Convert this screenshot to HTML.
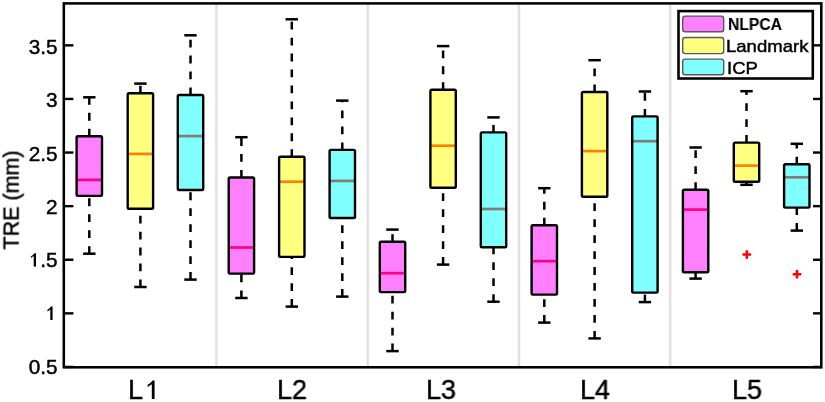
<!DOCTYPE html>
<html><head><meta charset="utf-8">
<style>
html,body{margin:0;padding:0;background:#fff;}
body{width:825px;height:402px;position:relative;overflow:hidden;font-family:"Liberation Sans",sans-serif;color:#000;}
.h{color:transparent;-webkit-text-stroke-color:transparent;}
.t{position:absolute;line-height:1;white-space:nowrap;will-change:transform;-webkit-text-stroke:0.45px #000;}
</style></head><body>
<div id="w" style="position:absolute;left:0;top:0;width:825px;height:402px;filter:blur(0.4px)">
<svg width="825" height="402" viewBox="0 0 825 402" style="position:absolute;left:0;top:0">
<line x1="216.4" y1="3.4" x2="216.4" y2="367.3" stroke="#f4f4f4" stroke-width="3.4"/>
<line x1="216.4" y1="3.4" x2="216.4" y2="367.3" stroke="#e0e0e0" stroke-width="1.9"/>
<line x1="367.8" y1="3.4" x2="367.8" y2="367.3" stroke="#f4f4f4" stroke-width="3.4"/>
<line x1="367.8" y1="3.4" x2="367.8" y2="367.3" stroke="#e0e0e0" stroke-width="1.9"/>
<line x1="519.0" y1="3.4" x2="519.0" y2="367.3" stroke="#f4f4f4" stroke-width="3.4"/>
<line x1="519.0" y1="3.4" x2="519.0" y2="367.3" stroke="#e0e0e0" stroke-width="1.9"/>
<line x1="670.2" y1="3.4" x2="670.2" y2="367.3" stroke="#f4f4f4" stroke-width="3.4"/>
<line x1="670.2" y1="3.4" x2="670.2" y2="367.3" stroke="#e0e0e0" stroke-width="1.9"/>
<line x1="63.8" y1="366.95" x2="73.39999999999999" y2="366.95" stroke="#000" stroke-width="2.4"/>
<line x1="813.0" y1="366.95" x2="821.3" y2="366.95" stroke="#000" stroke-width="2.4"/>
<line x1="63.8" y1="313.35" x2="73.39999999999999" y2="313.35" stroke="#000" stroke-width="2.4"/>
<line x1="813.0" y1="313.35" x2="821.3" y2="313.35" stroke="#000" stroke-width="2.4"/>
<line x1="63.8" y1="259.75" x2="73.39999999999999" y2="259.75" stroke="#000" stroke-width="2.4"/>
<line x1="813.0" y1="259.75" x2="821.3" y2="259.75" stroke="#000" stroke-width="2.4"/>
<line x1="63.8" y1="206.15" x2="73.39999999999999" y2="206.15" stroke="#000" stroke-width="2.4"/>
<line x1="813.0" y1="206.15" x2="821.3" y2="206.15" stroke="#000" stroke-width="2.4"/>
<line x1="63.8" y1="152.55" x2="73.39999999999999" y2="152.55" stroke="#000" stroke-width="2.4"/>
<line x1="813.0" y1="152.55" x2="821.3" y2="152.55" stroke="#000" stroke-width="2.4"/>
<line x1="63.8" y1="98.95" x2="73.39999999999999" y2="98.95" stroke="#000" stroke-width="2.4"/>
<line x1="813.0" y1="98.95" x2="821.3" y2="98.95" stroke="#000" stroke-width="2.4"/>
<line x1="63.8" y1="45.35" x2="73.39999999999999" y2="45.35" stroke="#000" stroke-width="2.4"/>
<line x1="813.0" y1="45.35" x2="821.3" y2="45.35" stroke="#000" stroke-width="2.4"/>
<line x1="89.3" y1="136.3" x2="89.3" y2="97.3" stroke="#000" stroke-width="2.5" stroke-dasharray="7.8 8.15" stroke-dashoffset="0.3"/>
<line x1="89.3" y1="253.7" x2="89.3" y2="195.9" stroke="#000" stroke-width="2.5" stroke-dasharray="7.8 8.15" stroke-dashoffset="0.3"/>
<line x1="83.1" y1="97.3" x2="95.5" y2="97.3" stroke="#000" stroke-width="2.5"/>
<line x1="83.1" y1="253.7" x2="95.5" y2="253.7" stroke="#000" stroke-width="2.5"/>
<rect x="76.60" y="136.3" width="25.4" height="59.60" fill="#ff80ff"/>
<line x1="76.60" y1="179.9" x2="102.00" y2="179.9" stroke="#ff0080" stroke-width="2.7"/>
<rect x="76.60" y="136.3" width="25.4" height="59.60" rx="1.3" fill="none" stroke="#000" stroke-width="2.4" stroke-linejoin="round"/>
<line x1="140.4" y1="93.3" x2="140.4" y2="83.6" stroke="#000" stroke-width="2.5" stroke-dasharray="7.8 8.15" stroke-dashoffset="0.3"/>
<line x1="140.4" y1="287.0" x2="140.4" y2="208.8" stroke="#000" stroke-width="2.5" stroke-dasharray="7.8 8.15" stroke-dashoffset="0.3"/>
<line x1="134.20000000000002" y1="83.6" x2="146.6" y2="83.6" stroke="#000" stroke-width="2.5"/>
<line x1="134.20000000000002" y1="287.0" x2="146.6" y2="287.0" stroke="#000" stroke-width="2.5"/>
<rect x="127.70" y="93.3" width="25.4" height="115.50" fill="#ffff80"/>
<line x1="127.70" y1="153.9" x2="153.10" y2="153.9" stroke="#ff8000" stroke-width="2.7"/>
<rect x="127.70" y="93.3" width="25.4" height="115.50" rx="1.3" fill="none" stroke="#000" stroke-width="2.4" stroke-linejoin="round"/>
<line x1="190.5" y1="95.0" x2="190.5" y2="35.3" stroke="#000" stroke-width="2.5" stroke-dasharray="7.8 8.15" stroke-dashoffset="0.3"/>
<line x1="190.5" y1="279.6" x2="190.5" y2="190.0" stroke="#000" stroke-width="2.5" stroke-dasharray="7.8 8.15" stroke-dashoffset="0.3"/>
<line x1="184.3" y1="35.3" x2="196.7" y2="35.3" stroke="#000" stroke-width="2.5"/>
<line x1="184.3" y1="279.6" x2="196.7" y2="279.6" stroke="#000" stroke-width="2.5"/>
<rect x="177.80" y="95.0" width="25.4" height="95.00" fill="#80ffff"/>
<line x1="177.80" y1="136.1" x2="203.20" y2="136.1" stroke="#847a7a" stroke-width="2.7"/>
<rect x="177.80" y="95.0" width="25.4" height="95.00" rx="1.3" fill="none" stroke="#000" stroke-width="2.4" stroke-linejoin="round"/>
<line x1="241.4" y1="177.5" x2="241.4" y2="137.2" stroke="#000" stroke-width="2.5" stroke-dasharray="7.8 8.15" stroke-dashoffset="0.3"/>
<line x1="241.4" y1="298.0" x2="241.4" y2="273.6" stroke="#000" stroke-width="2.5" stroke-dasharray="7.8 8.15" stroke-dashoffset="0.3"/>
<line x1="235.20000000000002" y1="137.2" x2="247.6" y2="137.2" stroke="#000" stroke-width="2.5"/>
<line x1="235.20000000000002" y1="298.0" x2="247.6" y2="298.0" stroke="#000" stroke-width="2.5"/>
<rect x="228.70" y="177.5" width="25.4" height="96.10" fill="#ff80ff"/>
<line x1="228.70" y1="247.5" x2="254.10" y2="247.5" stroke="#ff0080" stroke-width="2.7"/>
<rect x="228.70" y="177.5" width="25.4" height="96.10" rx="1.3" fill="none" stroke="#000" stroke-width="2.4" stroke-linejoin="round"/>
<line x1="291.8" y1="156.8" x2="291.8" y2="19.3" stroke="#000" stroke-width="2.5" stroke-dasharray="7.8 8.15" stroke-dashoffset="0.3"/>
<line x1="291.8" y1="306.6" x2="291.8" y2="256.9" stroke="#000" stroke-width="2.5" stroke-dasharray="7.8 8.15" stroke-dashoffset="0.3"/>
<line x1="285.6" y1="19.3" x2="298.0" y2="19.3" stroke="#000" stroke-width="2.5"/>
<line x1="285.6" y1="306.6" x2="298.0" y2="306.6" stroke="#000" stroke-width="2.5"/>
<rect x="279.10" y="156.8" width="25.4" height="100.10" fill="#ffff80"/>
<line x1="279.10" y1="181.7" x2="304.50" y2="181.7" stroke="#ff8000" stroke-width="2.7"/>
<rect x="279.10" y="156.8" width="25.4" height="100.10" rx="1.3" fill="none" stroke="#000" stroke-width="2.4" stroke-linejoin="round"/>
<line x1="342.3" y1="149.9" x2="342.3" y2="100.6" stroke="#000" stroke-width="2.5" stroke-dasharray="7.8 8.15" stroke-dashoffset="0.3"/>
<line x1="342.3" y1="296.6" x2="342.3" y2="218.0" stroke="#000" stroke-width="2.5" stroke-dasharray="7.8 8.15" stroke-dashoffset="0.3"/>
<line x1="336.1" y1="100.6" x2="348.5" y2="100.6" stroke="#000" stroke-width="2.5"/>
<line x1="336.1" y1="296.6" x2="348.5" y2="296.6" stroke="#000" stroke-width="2.5"/>
<rect x="329.60" y="149.9" width="25.4" height="68.10" fill="#80ffff"/>
<line x1="329.60" y1="180.9" x2="355.00" y2="180.9" stroke="#847a7a" stroke-width="2.7"/>
<rect x="329.60" y="149.9" width="25.4" height="68.10" rx="1.3" fill="none" stroke="#000" stroke-width="2.4" stroke-linejoin="round"/>
<line x1="392.5" y1="241.7" x2="392.5" y2="229.6" stroke="#000" stroke-width="2.5" stroke-dasharray="7.8 8.15" stroke-dashoffset="0.3"/>
<line x1="392.5" y1="351.1" x2="392.5" y2="292.1" stroke="#000" stroke-width="2.5" stroke-dasharray="7.8 8.15" stroke-dashoffset="0.3"/>
<line x1="386.3" y1="229.6" x2="398.7" y2="229.6" stroke="#000" stroke-width="2.5"/>
<line x1="386.3" y1="351.1" x2="398.7" y2="351.1" stroke="#000" stroke-width="2.5"/>
<rect x="379.80" y="241.7" width="25.4" height="50.40" fill="#ff80ff"/>
<line x1="379.80" y1="273.2" x2="405.20" y2="273.2" stroke="#ff0080" stroke-width="2.7"/>
<rect x="379.80" y="241.7" width="25.4" height="50.40" rx="1.3" fill="none" stroke="#000" stroke-width="2.4" stroke-linejoin="round"/>
<line x1="443.1" y1="89.8" x2="443.1" y2="46.1" stroke="#000" stroke-width="2.5" stroke-dasharray="7.8 8.15" stroke-dashoffset="0.3"/>
<line x1="443.1" y1="264.6" x2="443.1" y2="187.7" stroke="#000" stroke-width="2.5" stroke-dasharray="7.8 8.15" stroke-dashoffset="0.3"/>
<line x1="436.90000000000003" y1="46.1" x2="449.3" y2="46.1" stroke="#000" stroke-width="2.5"/>
<line x1="436.90000000000003" y1="264.6" x2="449.3" y2="264.6" stroke="#000" stroke-width="2.5"/>
<rect x="430.40" y="89.8" width="25.4" height="97.90" fill="#ffff80"/>
<line x1="430.40" y1="145.7" x2="455.80" y2="145.7" stroke="#ff8000" stroke-width="2.7"/>
<rect x="430.40" y="89.8" width="25.4" height="97.90" rx="1.3" fill="none" stroke="#000" stroke-width="2.4" stroke-linejoin="round"/>
<line x1="493.5" y1="132.4" x2="493.5" y2="117.4" stroke="#000" stroke-width="2.5" stroke-dasharray="7.8 8.15" stroke-dashoffset="0.3"/>
<line x1="493.5" y1="301.7" x2="493.5" y2="247.3" stroke="#000" stroke-width="2.5" stroke-dasharray="7.8 8.15" stroke-dashoffset="0.3"/>
<line x1="487.3" y1="117.4" x2="499.7" y2="117.4" stroke="#000" stroke-width="2.5"/>
<line x1="487.3" y1="301.7" x2="499.7" y2="301.7" stroke="#000" stroke-width="2.5"/>
<rect x="480.80" y="132.4" width="25.4" height="114.90" fill="#80ffff"/>
<line x1="480.80" y1="209.0" x2="506.20" y2="209.0" stroke="#847a7a" stroke-width="2.7"/>
<rect x="480.80" y="132.4" width="25.4" height="114.90" rx="1.3" fill="none" stroke="#000" stroke-width="2.4" stroke-linejoin="round"/>
<line x1="544.3" y1="225.3" x2="544.3" y2="188.2" stroke="#000" stroke-width="2.5" stroke-dasharray="7.8 8.15" stroke-dashoffset="0.3"/>
<line x1="544.3" y1="322.6" x2="544.3" y2="294.6" stroke="#000" stroke-width="2.5" stroke-dasharray="7.8 8.15" stroke-dashoffset="0.3"/>
<line x1="538.0999999999999" y1="188.2" x2="550.5" y2="188.2" stroke="#000" stroke-width="2.5"/>
<line x1="538.0999999999999" y1="322.6" x2="550.5" y2="322.6" stroke="#000" stroke-width="2.5"/>
<rect x="531.60" y="225.3" width="25.4" height="69.30" fill="#ff80ff"/>
<line x1="531.60" y1="261.2" x2="557.00" y2="261.2" stroke="#ff0080" stroke-width="2.7"/>
<rect x="531.60" y="225.3" width="25.4" height="69.30" rx="1.3" fill="none" stroke="#000" stroke-width="2.4" stroke-linejoin="round"/>
<line x1="594.6" y1="92.0" x2="594.6" y2="60.2" stroke="#000" stroke-width="2.5" stroke-dasharray="7.8 8.15" stroke-dashoffset="0.3"/>
<line x1="594.6" y1="338.4" x2="594.6" y2="196.8" stroke="#000" stroke-width="2.5" stroke-dasharray="7.8 8.15" stroke-dashoffset="0.3"/>
<line x1="588.4" y1="60.2" x2="600.8000000000001" y2="60.2" stroke="#000" stroke-width="2.5"/>
<line x1="588.4" y1="338.4" x2="600.8000000000001" y2="338.4" stroke="#000" stroke-width="2.5"/>
<rect x="581.90" y="92.0" width="25.4" height="104.80" fill="#ffff80"/>
<line x1="581.90" y1="151.1" x2="607.30" y2="151.1" stroke="#ff8000" stroke-width="2.7"/>
<rect x="581.90" y="92.0" width="25.4" height="104.80" rx="1.3" fill="none" stroke="#000" stroke-width="2.4" stroke-linejoin="round"/>
<line x1="644.9" y1="116.4" x2="644.9" y2="91.5" stroke="#000" stroke-width="2.5" stroke-dasharray="7.8 8.15" stroke-dashoffset="0.3"/>
<line x1="644.9" y1="302.1" x2="644.9" y2="292.6" stroke="#000" stroke-width="2.5" stroke-dasharray="7.8 8.15" stroke-dashoffset="0.3"/>
<line x1="638.6999999999999" y1="91.5" x2="651.1" y2="91.5" stroke="#000" stroke-width="2.5"/>
<line x1="638.6999999999999" y1="302.1" x2="651.1" y2="302.1" stroke="#000" stroke-width="2.5"/>
<rect x="632.20" y="116.4" width="25.4" height="176.20" fill="#80ffff"/>
<line x1="632.20" y1="141.2" x2="657.60" y2="141.2" stroke="#847a7a" stroke-width="2.7"/>
<rect x="632.20" y="116.4" width="25.4" height="176.20" rx="1.3" fill="none" stroke="#000" stroke-width="2.4" stroke-linejoin="round"/>
<line x1="695.6" y1="189.7" x2="695.6" y2="147.5" stroke="#000" stroke-width="2.5" stroke-dasharray="7.8 8.15" stroke-dashoffset="0.3"/>
<line x1="695.6" y1="278.6" x2="695.6" y2="272.3" stroke="#000" stroke-width="2.5" stroke-dasharray="7.8 8.15" stroke-dashoffset="0.3"/>
<line x1="689.4" y1="147.5" x2="701.8000000000001" y2="147.5" stroke="#000" stroke-width="2.5"/>
<line x1="689.4" y1="278.6" x2="701.8000000000001" y2="278.6" stroke="#000" stroke-width="2.5"/>
<rect x="682.90" y="189.7" width="25.4" height="82.60" fill="#ff80ff"/>
<line x1="682.90" y1="209.6" x2="708.30" y2="209.6" stroke="#ff0080" stroke-width="2.7"/>
<rect x="682.90" y="189.7" width="25.4" height="82.60" rx="1.3" fill="none" stroke="#000" stroke-width="2.4" stroke-linejoin="round"/>
<line x1="746.5" y1="142.6" x2="746.5" y2="91.2" stroke="#000" stroke-width="2.5" stroke-dasharray="7.8 8.15" stroke-dashoffset="0.3"/>
<line x1="746.5" y1="184.8" x2="746.5" y2="181.8" stroke="#000" stroke-width="2.5" stroke-dasharray="7.8 8.15" stroke-dashoffset="0.3"/>
<line x1="740.3" y1="91.2" x2="752.7" y2="91.2" stroke="#000" stroke-width="2.5"/>
<line x1="740.3" y1="184.8" x2="752.7" y2="184.8" stroke="#000" stroke-width="2.5"/>
<rect x="733.80" y="142.6" width="25.4" height="39.20" fill="#ffff80"/>
<line x1="733.80" y1="165.6" x2="759.20" y2="165.6" stroke="#ff8000" stroke-width="2.7"/>
<rect x="733.80" y="142.6" width="25.4" height="39.20" rx="1.3" fill="none" stroke="#000" stroke-width="2.4" stroke-linejoin="round"/>
<line x1="796.8" y1="164.2" x2="796.8" y2="143.8" stroke="#000" stroke-width="2.5" stroke-dasharray="7.8 8.15" stroke-dashoffset="0.3"/>
<line x1="796.8" y1="230.6" x2="796.8" y2="207.6" stroke="#000" stroke-width="2.5" stroke-dasharray="7.8 8.15" stroke-dashoffset="0.3"/>
<line x1="790.5999999999999" y1="143.8" x2="803.0" y2="143.8" stroke="#000" stroke-width="2.5"/>
<line x1="790.5999999999999" y1="230.6" x2="803.0" y2="230.6" stroke="#000" stroke-width="2.5"/>
<rect x="784.10" y="164.2" width="25.4" height="43.40" fill="#80ffff"/>
<line x1="784.10" y1="177.3" x2="809.50" y2="177.3" stroke="#847a7a" stroke-width="2.7"/>
<rect x="784.10" y="164.2" width="25.4" height="43.40" rx="1.3" fill="none" stroke="#000" stroke-width="2.4" stroke-linejoin="round"/>
<path d="M742.50 254.5H751.10M746.8 250.20V258.80" stroke="#ff0000" stroke-width="2.6" fill="none"/>
<path d="M792.70 274.2H801.30M797.0 269.90V278.50" stroke="#ff0000" stroke-width="2.6" fill="none"/>
<rect x="63.8" y="3.4" width="757.50" height="363.90" fill="none" stroke="#000" stroke-width="2.55"/>
<rect x="678.5" y="11.1" width="134.3" height="67.4" fill="#fff" stroke="#000" stroke-width="2.6"/>
<rect x="682.7" y="16.1" width="41" height="15.70" rx="2.5" fill="#ff80ff" stroke="#5a5a5a" stroke-width="1.4"/>
<rect x="682.7" y="37.5" width="41" height="16.10" rx="2.5" fill="#ffff80" stroke="#5a5a5a" stroke-width="1.4"/>
<rect x="682.7" y="59.1" width="41" height="15.70" rx="2.5" fill="#80ffff" stroke="#5a5a5a" stroke-width="1.4"/>
<path d="M52.60 320.00L50.30 320.00L50.30 309.41L47.43 311.42L47.43 309.75Q49.71 308.48 51.05 306.60L52.60 306.60Z" fill="#000"/>
<path d="M36.00 266.60L33.70 266.60L33.70 256.09L30.86 258.09L30.86 256.43Q33.12 255.16 34.45 253.30L36.00 253.30Z" fill="#000"/>
<path d="M154.57 399.00L151.82 399.00L151.82 384.31L147.62 387.10L147.62 384.77Q150.78 383.00 152.64 380.40L154.57 380.40Z" fill="#000"/>
</svg>
<div class="t" style="right:767.5px;top:357.20px;font-size:20.6px;transform:scaleX(1.01);transform-origin:right center">0.5</div>
<div class="t" style="right:767.5px;top:303.80px;font-size:20.6px;transform:scaleX(1.01);transform-origin:right center"><span class="h">1</span></div>
<div class="t" style="right:767.5px;top:250.40px;font-size:20.6px;transform:scaleX(1.01);transform-origin:right center"><span class="h">1</span>.5</div>
<div class="t" style="right:767.5px;top:197.00px;font-size:20.6px;transform:scaleX(1.01);transform-origin:right center">2</div>
<div class="t" style="right:767.5px;top:143.60px;font-size:20.6px;transform:scaleX(1.01);transform-origin:right center">2.5</div>
<div class="t" style="right:767.5px;top:90.20px;font-size:20.6px;transform:scaleX(1.01);transform-origin:right center">3</div>
<div class="t" style="right:767.5px;top:36.80px;font-size:20.6px;transform:scaleX(1.01);transform-origin:right center">3.5</div>
<div class="t" style="left:128.00px;top:376.0px;font-size:27.6px;transform:scaleX(0.98);transform-origin:left center">L<span class="h">1</span></div>
<div class="t" style="left:276.80px;top:376.0px;font-size:27.6px;transform:scaleX(0.98);transform-origin:left center">L2</div>
<div class="t" style="left:426.20px;top:376.0px;font-size:27.6px;transform:scaleX(0.98);transform-origin:left center">L3</div>
<div class="t" style="left:580.30px;top:376.0px;font-size:27.6px;transform:scaleX(0.98);transform-origin:left center">L4</div>
<div class="t" style="left:732.20px;top:376.0px;font-size:27.6px;transform:scaleX(0.98);transform-origin:left center">L5</div>
<div class="t" style="left:11.5px;top:200.1px;font-size:21.5px;transform:translate(-50%,-50%) rotate(-90deg) scaleY(1.05);">TRE (mm)</div>
<div class="t" style="left:727.6px;top:16.8px;font-size:16px;font-weight:bold;-webkit-text-stroke:0.1px #000;transform:scaleX(0.98);transform-origin:left center">NLPCA</div>
<div class="t" style="left:726.2px;top:38.3px;font-size:17px;transform:scaleX(1.09);transform-origin:left center">Landmark</div>
<div class="t" style="left:726.6px;top:60.4px;font-size:17px;transform:scaleX(1.09);transform-origin:left center">ICP</div>
</div>
</body></html>
